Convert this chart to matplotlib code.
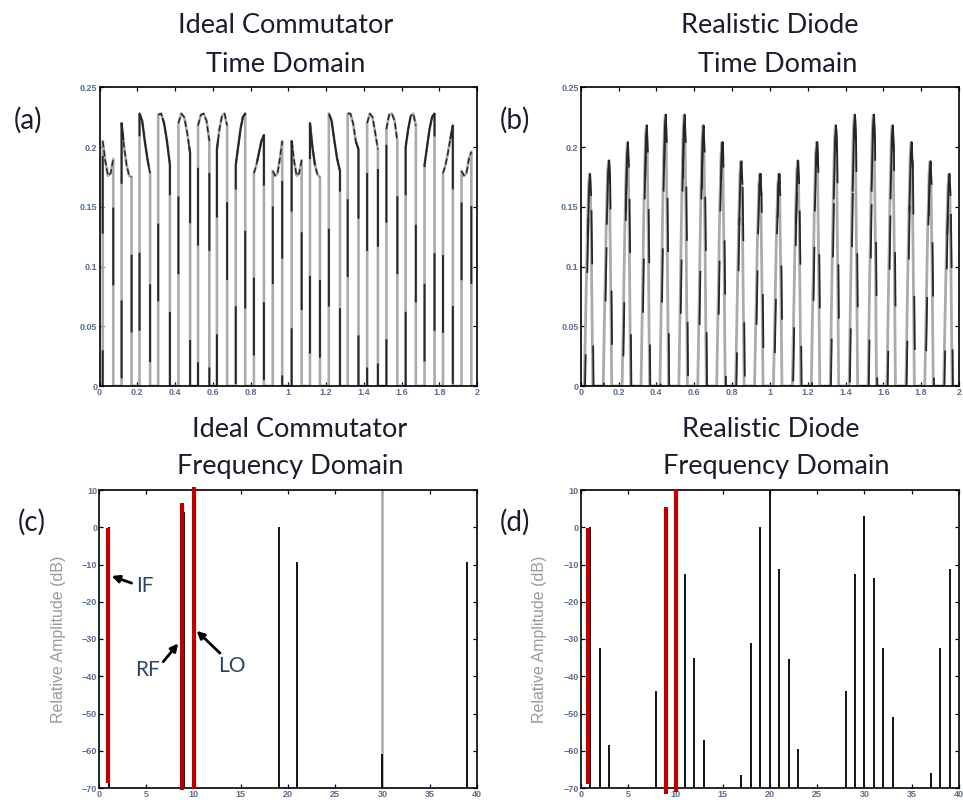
"""Ideal commutator vs realistic diode mixer: time and frequency domain (4 panels)."""
import matplotlib
matplotlib.use("Agg")
import matplotlib.pyplot as plt

W_PX, H_PX = 963, 802

# ---- (a) ideal commutator, time domain: one pulse per LO half-cycle ----
A_START = [0.017, 0.117, 0.212, 0.311, 0.418, 0.522, 0.622, 0.722, 0.818, 0.918,
           1.018, 1.115, 1.215, 1.315, 1.418, 1.520, 1.622, 1.722, 1.820, 1.918]
A_END = [0.073, 0.170, 0.268, 0.373, 0.480, 0.582, 0.676, 0.772, 0.871, 0.968,
         1.071, 1.168, 1.274, 1.372, 1.475, 1.578, 1.676, 1.775, 1.872, 1.970]
A_TOPS = [
    [0.205, 0.188, 0.176, 0.178, 0.190],
    [0.220, 0.200, 0.185, 0.176, 0.175],
    [0.228, 0.222, 0.205, 0.190, 0.178],
    [0.227, 0.228, 0.220, 0.205, 0.185],
    [0.220, 0.228, 0.225, 0.212, 0.195],
    [0.218, 0.227, 0.228, 0.222, 0.205],
    [0.198, 0.215, 0.226, 0.228, 0.218],
    [0.185, 0.200, 0.215, 0.225, 0.228],
    [0.178, 0.185, 0.195, 0.205, 0.210],
    [0.180, 0.176, 0.178, 0.190, 0.205],
    [0.205, 0.188, 0.176, 0.178, 0.189],
    [0.220, 0.200, 0.185, 0.177, 0.175],
    [0.228, 0.222, 0.205, 0.190, 0.180],
    [0.228, 0.228, 0.220, 0.205, 0.198],
    [0.220, 0.228, 0.225, 0.212, 0.198],
    [0.215, 0.227, 0.228, 0.222, 0.205],
    [0.200, 0.215, 0.226, 0.228, 0.218],
    [0.185, 0.200, 0.215, 0.225, 0.228],
    [0.178, 0.185, 0.195, 0.207, 0.218],
    [0.180, 0.176, 0.178, 0.190, 0.196],
]

# ---- (b) realistic diode, time domain: conduction spikes ----
B_PEAK_T = [0.047, 0.147, 0.247, 0.347, 0.447, 0.547, 0.647, 0.747, 0.847, 0.947,
            1.047, 1.147, 1.247, 1.347, 1.447, 1.547, 1.647, 1.747, 1.847, 1.947]
B_PEAK_V = [0.1775, 0.1886, 0.204, 0.218, 0.227, 0.227, 0.218, 0.204, 0.188, 0.1775,
            0.1775, 0.1886, 0.204, 0.218, 0.227, 0.227, 0.218, 0.204, 0.188, 0.1775]
B_SHAPE_DT = [-0.028, -0.020, -0.012, -0.005, 0.0, 0.005, 0.011, 0.017]
B_SHAPE_REL = [0.0, 0.35, 0.72, 0.95, 1.0, 0.90, 0.50, 0.0]

# ---- (c) ideal commutator spectrum (dB) ----
C_FREQ = [1, 9, 10, 19, 21, 30, 39]
C_DB = [0, 4.2, -61, 0, -9.2, -61, -9.2]
C_GRAY_FREQ = [30]
C_GRAY_DB = [10]
C_RED_X = [0.88, 8.73, 10.03]
C_RED_TOP = [-0.3, 6.5, 10.9]
C_RED_BOT = [-68.7, -70.5, -70.4]

# ---- (d) realistic diode spectrum (dB) ----
D_FREQ = [1, 2, 3, 8, 9, 10, 11, 12, 13, 17, 18, 19, 20, 21, 22, 23,
          28, 29, 30, 31, 32, 33, 37, 38, 39]
D_DB = [0, -32.5, -58.5, -44, 3.3, -63, -12.5, -35, -57, -66.5, -31, 0, 10, -11.3,
        -35.5, -59.5, -44, -12.5, 3, -13.5, -32.5, -51, -66, -32.5, -11.3]
D_RED_X = [0.75, 9.02, 10.04]
D_RED_TOP = [-0.1, 5.4, 10.2]
D_RED_BOT = [-68.9, -71.6, -71.2]

TIME_XTICKS = [0, 0.2, 0.4, 0.6, 0.8, 1, 1.2, 1.4, 1.6, 1.8, 2]
TIME_XLABELS = ["0", "0.2", "0.4", "0.6", "0.8", "1", "1.2", "1.4", "1.6", "1.8", "2"]
TIME_YTICKS = [0, 0.05, 0.1, 0.15, 0.2, 0.25]
TIME_YLABELS = ["0", "0.05", "0.1", "0.15", "0.2", "0.25"]
FREQ_XTICKS = [0, 5, 10, 15, 20, 25, 30, 35, 40]
FREQ_YTICKS = [10, 0, -10, -20, -30, -40, -50, -60, -70]

TITLE_FONT = ["Lato", "DejaVu Sans"]
TICK_COLOR = "#5b6e8f"
RED = "#c00000"
GRAY = "#ababab"
DARK = "#262626"


def fx(x):
    return x / W_PX


def fy(y):
    return 1 - y / H_PX


def axes_px(fig, left, top, right, bottom):
    return fig.add_axes([fx(left), fy(bottom), (right - left) / W_PX, (bottom - top) / H_PX])


def style_axes(ax):
    for s in ax.spines.values():
        s.set_linewidth(1.2)
        s.set_color("black")
    ax.tick_params(direction="in", top=True, right=True, length=3, width=0.9,
                   labelsize=6.5, labelcolor=TICK_COLOR, pad=1.5)
    for lab in ax.get_xticklabels() + ax.get_yticklabels():
        lab.set_fontfamily("Liberation Sans")
        lab.set_fontweight("bold")


def pulse_train_a():
    xs, ys = [0.0], [0.0]
    for s, e, tops in zip(A_START, A_END, A_TOPS):
        n = len(tops)
        xs.append(s)
        ys.append(0.0)
        for i, v in enumerate(tops):
            xs.append(s + (e - s) * i / (n - 1))
            ys.append(v)
        xs.append(e)
        ys.append(0.0)
    xs.append(2.0)
    ys.append(0.0)
    return xs, ys


def spike_train_b(shift=0.0):
    xs, ys = [0.0], [0.0]
    for t, v in zip(B_PEAK_T, B_PEAK_V):
        for dt, r in zip(B_SHAPE_DT, B_SHAPE_REL):
            xs.append(t + dt + shift)
            ys.append(v * r)
    xs.append(2.0)
    ys.append(0.0)
    return xs, ys


def time_axes(ax):
    ax.set_xlim(0, 2)
    ax.set_ylim(0, 0.25)
    ax.set_xticks(TIME_XTICKS)
    ax.set_xticklabels(TIME_XLABELS)
    ax.set_yticks(TIME_YTICKS)
    ax.set_yticklabels(TIME_YLABELS)
    style_axes(ax)


def freq_panel(ax, freq, db, red_x, red_top, red_bot):
    ax.vlines(freq, -70, db, color="black", lw=1.3)
    ax.vlines(red_x, red_bot, red_top, color=RED, lw=3.0, clip_on=False, zorder=5)
    ax.set_xlim(0, 40)
    ax.set_ylim(-70, 10)
    ax.set_xticks(FREQ_XTICKS)
    ax.set_yticks(FREQ_YTICKS)
    ax.set_ylabel("Relative Amplitude (dB)", fontsize=11.5, color="#9a9a9a",
                  family="Liberation Sans")
    ax.yaxis.set_label_coords(-0.088, 0.5)
    style_axes(ax)


def main():
    fig = plt.figure(figsize=(W_PX / 100, H_PX / 100), dpi=100)

    ax_a = axes_px(fig, 99.5, 87.3, 477, 386)
    ax_b = axes_px(fig, 580.7, 87.3, 959, 386)
    ax_c = axes_px(fig, 99.3, 490, 476.7, 788)
    ax_d = axes_px(fig, 580.7, 490, 959, 788)

    # (a): gray trace, second (black) trace partly on top, black pulse tops
    xa, ya = pulse_train_a()
    ax_a.plot(xa, ya, color=GRAY, lw=1.9)
    ax_a.plot(xa, ya, color=DARK, lw=1.4, linestyle=(20, (40, 60)))
    for s, e, tops in zip(A_START, A_END, A_TOPS):
        n = len(tops)
        ax_a.plot([s + (e - s) * i / (n - 1) for i in range(n)], tops,
                  color=DARK, lw=1.1, linestyle=(0, (4, 2)))
    time_axes(ax_a)

    # (b): gray trace with the black trace over the upper part of each spike
    xb, yb = spike_train_b()
    ax_b.plot(xb, yb, color=GRAY, lw=2.0)
    xb2, yb2 = spike_train_b(shift=0.004)
    ax_b.plot(xb2, yb2, color=DARK, lw=1.3, linestyle=(10, (30, 45)))
    for t, v in zip(B_PEAK_T, B_PEAK_V):
        ax_b.plot([t + dt + 0.003 for dt, r in zip(B_SHAPE_DT, B_SHAPE_REL) if r >= 0.7],
                  [v * r for r in B_SHAPE_REL if r >= 0.7], color=DARK, lw=1.3)
    time_axes(ax_b)

    ax_c.vlines(C_GRAY_FREQ, -70, C_GRAY_DB, color=GRAY, lw=1.8)
    freq_panel(ax_c, C_FREQ, C_DB, C_RED_X, C_RED_TOP, C_RED_BOT)
    freq_panel(ax_d, D_FREQ, D_DB, D_RED_X, D_RED_TOP, D_RED_BOT)
    ax_d.yaxis.set_label_coords(-0.09, 0.5)

    # hand-drawn style annotations on (c)
    note = dict(fontsize=15, color="#2f4460", family=TITLE_FONT, ha="center", va="center")
    arrow = dict(arrowstyle="-|>", lw=2.0, color="black", mutation_scale=11,
                 shrinkA=0, shrinkB=0)
    ax_c.annotate("", xy=(1.31, -13.1), xytext=(3.43, -15.0), arrowprops=arrow)
    ax_c.text(4.84, -15.8, "IF", **note)
    ax_c.annotate("", xy=(8.37, -31.2), xytext=(6.78, -36.1), arrowprops=arrow)
    ax_c.text(5.09, -38.3, "RF", **note)
    ax_c.annotate("", xy=(10.32, -27.8), xytext=(12.79, -33.8), arrowprops=arrow)
    ax_c.text(14.03, -37.2, "LO", **note)

    title = dict(fontsize=19.5, color="#1c1c2c", family=TITLE_FONT, ha="center", va="baseline")
    fig.text(fx(286), fy(33), "Ideal Commutator", **title)
    fig.text(fx(286), fy(72), "Time Domain", **title)
    fig.text(fx(770), fy(33), "Realistic Diode", **title)
    fig.text(fx(778), fy(72), "Time Domain", **title)
    fig.text(fx(300), fy(437), "Ideal Commutator", **title)
    fig.text(fx(290), fy(474), "Frequency Domain", **title)
    fig.text(fx(771), fy(437), "Realistic Diode", **title)
    fig.text(fx(776), fy(474), "Frequency Domain", **title)

    lab = dict(fontsize=20, color="#1c1c2c", family=TITLE_FONT, ha="center", va="center")
    fig.text(fx(28), fy(120), "(a)", **lab)
    fig.text(fx(515), fy(120), "(b)", **lab)
    fig.text(fx(32), fy(522), "(c)", **lab)
    fig.text(fx(515), fy(522), "(d)", **lab)

    fig.savefig("out.png", dpi=100)


if __name__ == "__main__":
    main()
